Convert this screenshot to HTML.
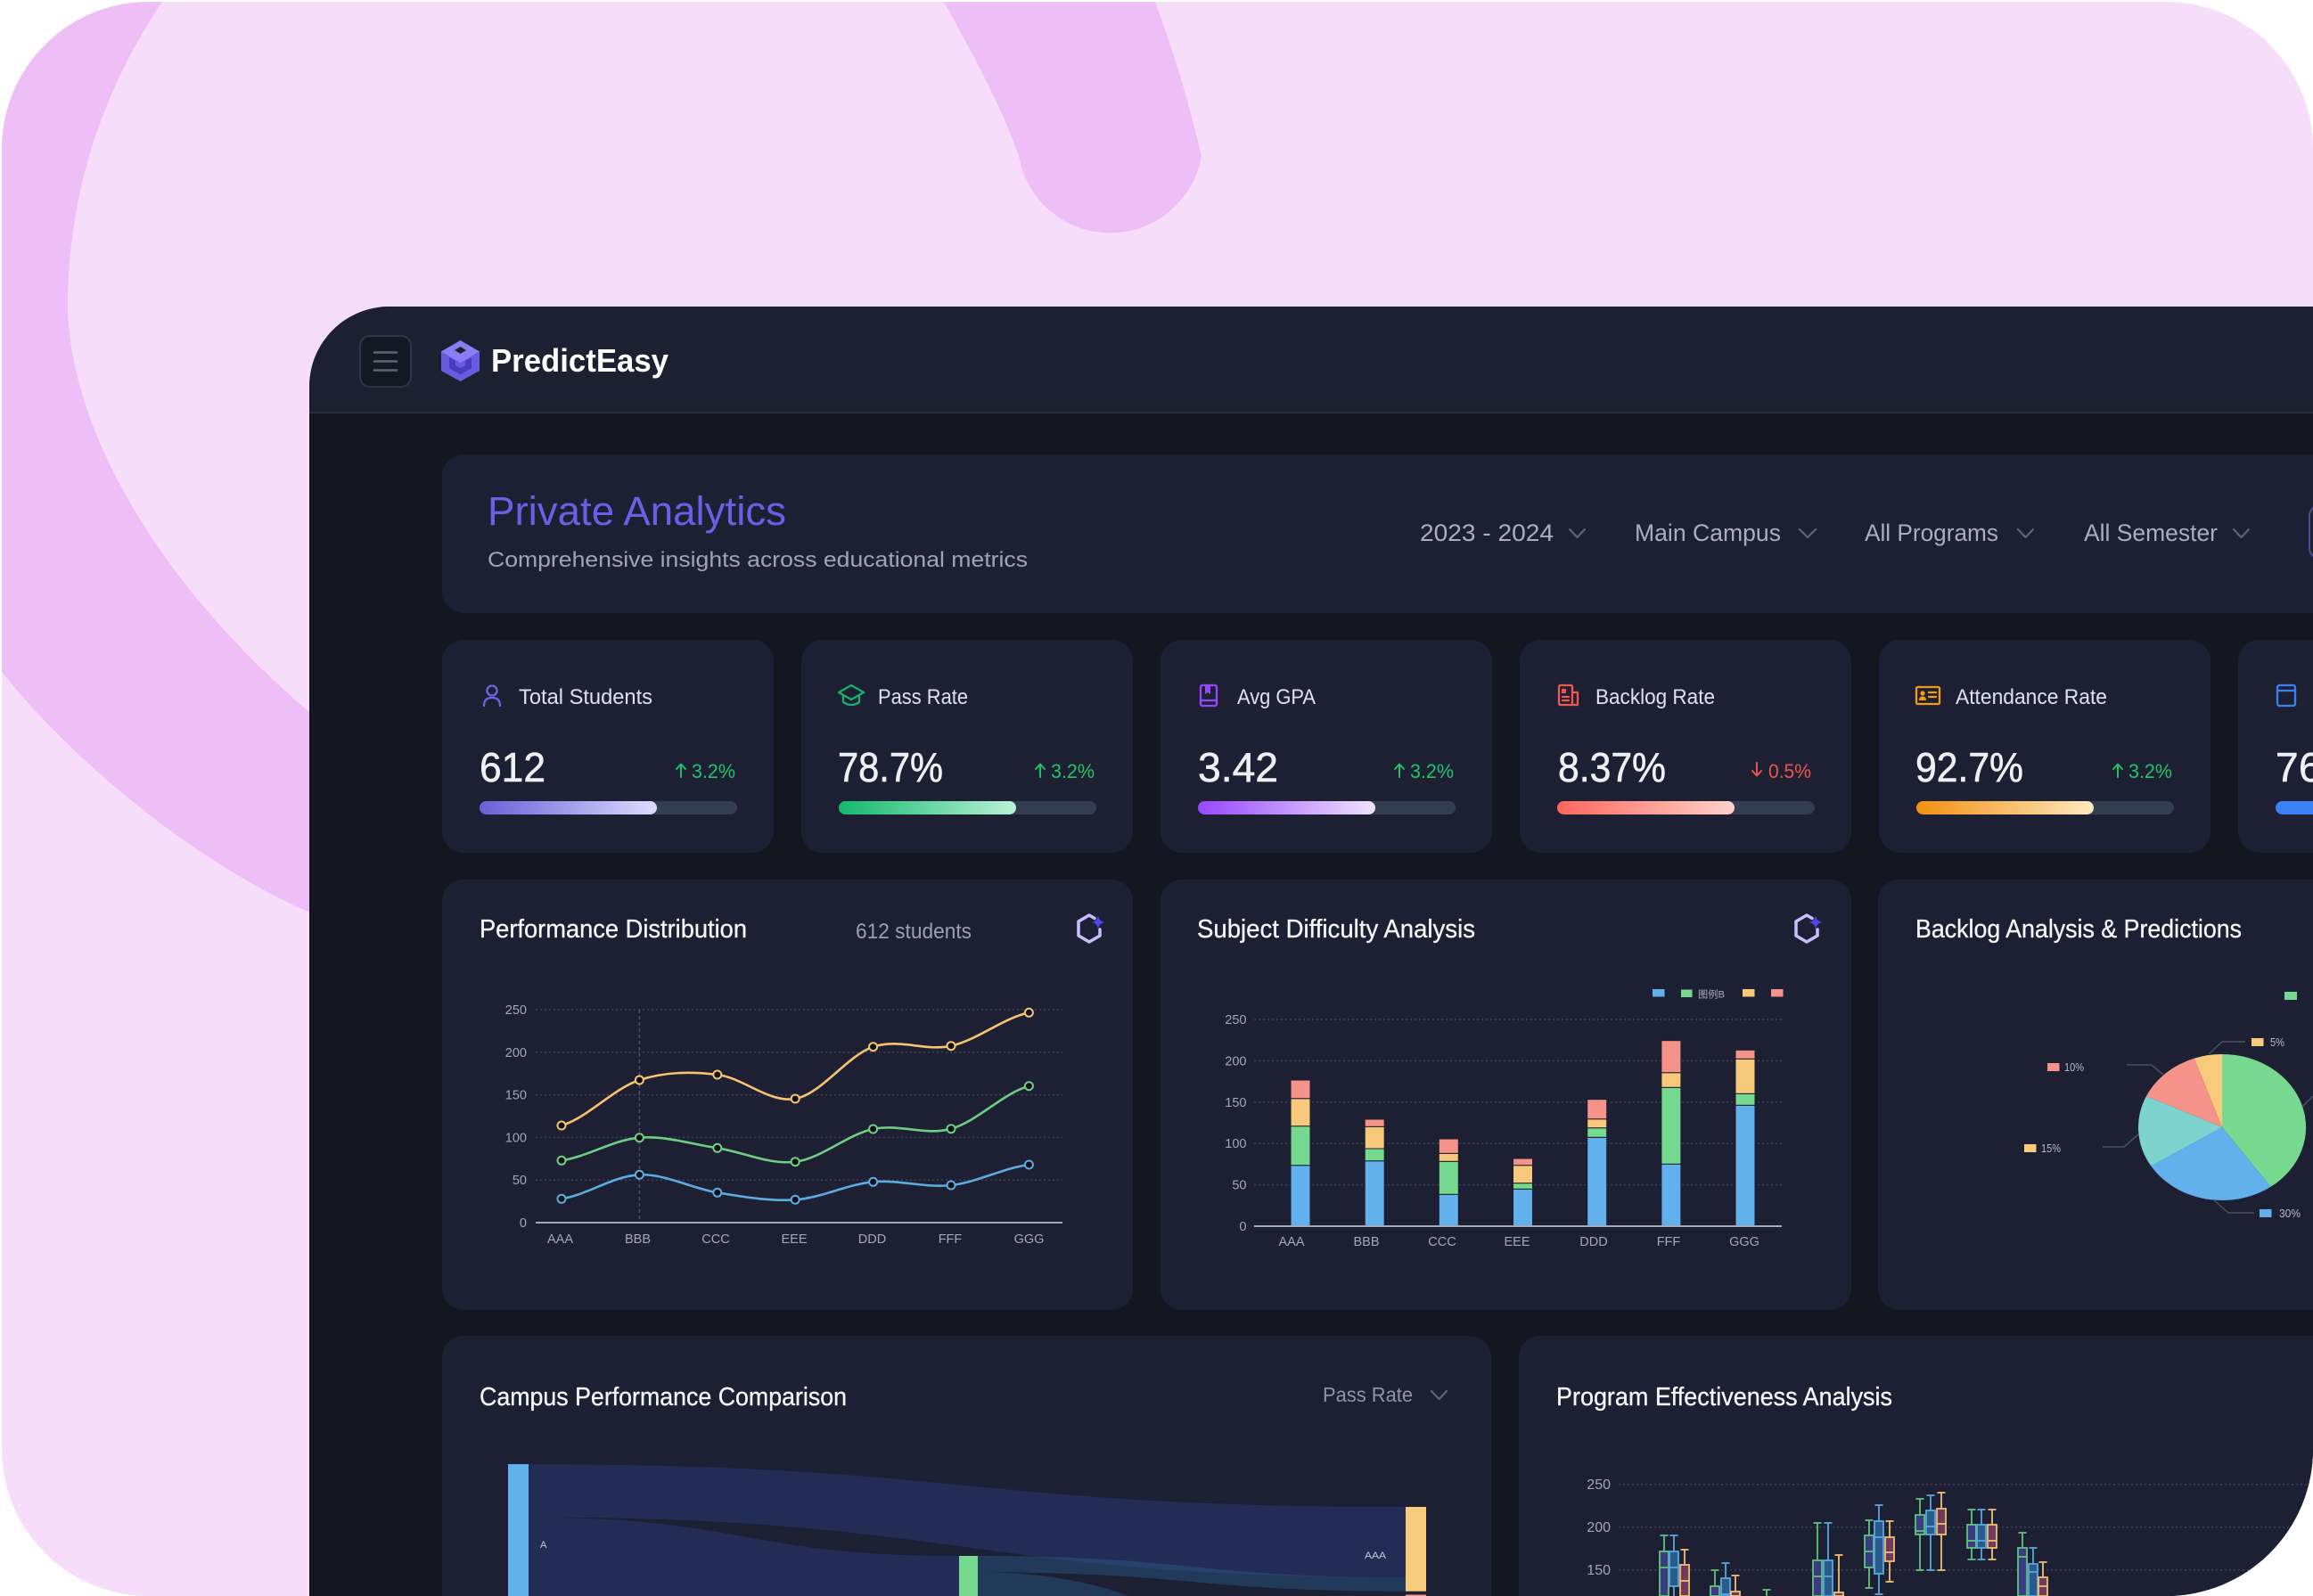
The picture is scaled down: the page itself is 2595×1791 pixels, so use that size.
<!DOCTYPE html>
<html><head><meta charset="utf-8">
<style>
html,body{margin:0;padding:0;background:#fff;width:2595px;height:1791px;overflow:hidden}
svg{display:block}
text{font-family:"Liberation Sans",Arial,"Noto Sans CJK SC",sans-serif}
</style></head><body>
<svg width="2595" height="1791" viewBox="0 0 2595 1791" xmlns="http://www.w3.org/2000/svg">
<defs>
<clipPath id="outer"><rect x="2" y="2" width="2593" height="1789" rx="165" ry="165"/></clipPath>
<clipPath id="dash"><path d="M347,1791 L347,434 A90,90 0 0 1 437,344 L2595,344 L2595,1791 Z"/></clipPath>
<linearGradient id="g1" x1="0" x2="1"><stop offset="0" stop-color="#6a5fd8"/><stop offset="1" stop-color="#dedcff"/></linearGradient>
<linearGradient id="g2" x1="0" x2="1"><stop offset="0" stop-color="#14b86e"/><stop offset="1" stop-color="#b8f2d6"/></linearGradient>
<linearGradient id="g3" x1="0" x2="1"><stop offset="0" stop-color="#9747ff"/><stop offset="1" stop-color="#efe3ff"/></linearGradient>
<linearGradient id="g4" x1="0" x2="1"><stop offset="0" stop-color="#ff665c"/><stop offset="1" stop-color="#ffd2cb"/></linearGradient>
<linearGradient id="g5" x1="0" x2="1"><stop offset="0" stop-color="#f29111"/><stop offset="1" stop-color="#fee9bf"/></linearGradient>
<linearGradient id="g6" x1="0" x2="1"><stop offset="0" stop-color="#3b82f6"/><stop offset="1" stop-color="#c7dcff"/></linearGradient>
</defs>
<rect width="2595" height="1791" fill="#fff"/>
<g clip-path="url(#outer)">
<rect width="2595" height="1791" fill="#f6defb"/>
<path d="M0 0 L190 0 L183 0 C 120 95, 80 200, 76 330 C 72 460, 160 640, 348 800 L 600 950 L 600 1150 L 348 1024 C 200 960, 60 830, 0 751 Z" fill="#edbff6"/>
<path d="M1058,0 C1085,50 1120,110 1143,175 A104,104 0 0 0 1348,175 C1335,120 1318,60 1295,0 Z" fill="#edbff6"/>

<g clip-path="url(#dash)">
<rect x="347" y="344" width="2248" height="1447" fill="#141720"/>
<rect x="347" y="344" width="2248" height="118" fill="#1c2031"/>
<rect x="347" y="462" width="2248" height="2" fill="#2a2f3e"/>

<!-- header -->
<rect x="404" y="377" width="57" height="57" rx="11" fill="#141821" stroke="#2f3545" stroke-width="2"/>
<g stroke="#5c6476" stroke-width="2.6" stroke-linecap="round"><line x1="420" y1="395.5" x2="445" y2="395.5"/><line x1="420" y1="405.5" x2="445" y2="405.5"/><line x1="420" y1="415.5" x2="445" y2="415.5"/></g>
<polygon points="516.5,382 538,394.5 538,416 516.5,428 495,416 495,394.5" fill="#6a5ae0"/>
<polygon points="516.5,382 538,394.5 516.5,407 495,394.5" fill="#8a7ff2"/>
<path d="M504,401 L504,413 L516.5,420.5 L529,413 L529,401 L522,405 L522,410 L516.5,413 L511,410 L511,405 Z" fill="#4a3cbf"/>
<polygon points="516.5,389 523,393 516.5,397 510,393" fill="#1c2031"/>
<text x="551" y="417" font-size="36" font-weight="bold" fill="#ffffff" textLength="199" lengthAdjust="spacingAndGlyphs">PredictEasy</text>

<!-- title card -->
<path d="M496,534 A24,24 0 0 1 520,510 L2595,510 L2595,688 L520,688 A24,24 0 0 1 496,664 Z" fill="#1c2032"/>
<text x="547" y="589" font-size="45" fill="#6c5fe6" textLength="335" lengthAdjust="spacingAndGlyphs">Private Analytics</text>
<text x="547" y="636" font-size="24" fill="#a0a5b2" textLength="606" lengthAdjust="spacingAndGlyphs">Comprehensive insights across educational metrics</text>
<g font-size="27" fill="#a9afbd">
<text x="1593" y="607" textLength="150" lengthAdjust="spacingAndGlyphs">2023 - 2024</text>
<text x="1834" y="607" textLength="164" lengthAdjust="spacingAndGlyphs">Main Campus</text>
<text x="2092" y="607" textLength="150" lengthAdjust="spacingAndGlyphs">All Programs</text>
<text x="2338" y="607" textLength="150" lengthAdjust="spacingAndGlyphs">All Semester</text>
</g>
<g fill="none" stroke="#5c6477" stroke-width="2.2" stroke-linecap="round" stroke-linejoin="round">
<polyline points="1761,594 1769.5,603 1778,594"/>
<polyline points="2019,594 2028,603 2037,594"/>
<polyline points="2264,594 2272.5,603 2281,594"/>
<polyline points="2506,594 2514.5,603 2523,594"/>
</g>
<path d="M2595,567 L2603,567 M2591,579 A12,12 0 0 1 2603,567 M2591,579 L2591,615 A12,12 0 0 0 2603,627 L2595,627" fill="none" stroke="#4e4a8f" stroke-width="2"/>

<!-- KPI cards -->
<g fill="#1c2032">
<rect x="496" y="718" width="372" height="239" rx="24"/>
<rect x="899" y="718" width="372" height="239" rx="24"/>
<rect x="1302" y="718" width="372" height="239" rx="24"/>
<rect x="1705" y="718" width="372" height="239" rx="24"/>
<rect x="2108" y="718" width="372" height="239" rx="24"/>
<path d="M2511,742 A24,24 0 0 1 2535,718 L2595,718 L2595,957 L2535,957 A24,24 0 0 1 2511,933 Z"/>
</g>
<!-- icons -->
<g fill="none" stroke-width="2.3" stroke-linecap="round" stroke-linejoin="round">
<circle cx="552" cy="775" r="5.5" stroke="#6c63e6"/>
<path d="M543,792 Q543,783 552,783 Q561,783 561,792" stroke="#6c63e6"/>
<polygon points="955,769 969,777 955,785 941,777" stroke="#16b26a"/>
<path d="M946,781 L946,788 Q955,794 964,788 L964,781" stroke="#16b26a"/>
<rect x="1347" y="769" width="18" height="23" rx="2" stroke="#9747ff"/>
<line x1="1347" y1="786" x2="1365" y2="786" stroke="#9747ff"/>
<rect x="1749" y="769" width="15" height="22" rx="1.5" stroke="#f0584f"/>
<path d="M1764,777 L1770,777 L1770,791 L1764,791" stroke="#f0584f"/>
<line x1="1753" y1="782" x2="1760" y2="782" stroke="#f0584f"/>
<line x1="1753" y1="786" x2="1760" y2="786" stroke="#f0584f"/>
<rect x="2150" y="771" width="26" height="19" rx="1.5" stroke="#f39c12"/>
<line x1="2164" y1="777" x2="2172" y2="777" stroke="#f39c12"/>
<line x1="2164" y1="782" x2="2172" y2="782" stroke="#f39c12"/>
<rect x="2555" y="769" width="20" height="23" rx="2.5" stroke="#3b82f6"/>
<line x1="2555" y1="775" x2="2575" y2="775" stroke="#3b82f6"/>
</g>
<path d="M1352,769 L1352,779 L1355,777 L1358,779 L1358,769 Z" fill="#9747ff"/>
<rect x="1752" y="773" width="5" height="5" fill="#f0584f"/>
<circle cx="2157" cy="778" r="2.6" fill="#f39c12"/>
<path d="M2153,786 Q2153,781.5 2157,781.5 Q2161,781.5 2161,786 Z" fill="#f39c12"/>
<!-- labels -->
<g font-size="24" fill="#dfe0f2">
<text x="582" y="790" textLength="150" lengthAdjust="spacingAndGlyphs">Total Students</text>
<text x="985" y="790" textLength="101" lengthAdjust="spacingAndGlyphs">Pass Rate</text>
<text x="1388" y="790" textLength="88" lengthAdjust="spacingAndGlyphs">Avg GPA</text>
<text x="1790" y="790" textLength="134" lengthAdjust="spacingAndGlyphs">Backlog Rate</text>
<text x="2194" y="790" textLength="170" lengthAdjust="spacingAndGlyphs">Attendance Rate</text>
</g>
<g font-size="46" fill="#eef0f4" stroke="#eef0f4" stroke-width="0.6">
<text x="538" y="877" textLength="74" lengthAdjust="spacingAndGlyphs">612</text>
<text x="940" y="877" textLength="118" lengthAdjust="spacingAndGlyphs">78.7%</text>
<text x="1344" y="877" textLength="90" lengthAdjust="spacingAndGlyphs">3.42</text>
<text x="1748" y="877" textLength="121" lengthAdjust="spacingAndGlyphs">8.37%</text>
<text x="2149" y="877" textLength="121" lengthAdjust="spacingAndGlyphs">92.7%</text>
<text x="2553" y="877">7</text>
<text x="2579" y="877">6</text>
</g>
<!-- changes -->
<g font-size="22" text-anchor="end">
<text x="825" y="873" fill="#22c468" textLength="49" lengthAdjust="spacingAndGlyphs">3.2%</text>
<text x="1228" y="873" fill="#22c468" textLength="49" lengthAdjust="spacingAndGlyphs">3.2%</text>
<text x="1631" y="873" fill="#22c468" textLength="49" lengthAdjust="spacingAndGlyphs">3.2%</text>
<text x="2032" y="873" fill="#f0544c" textLength="48" lengthAdjust="spacingAndGlyphs">0.5%</text>
<text x="2437" y="873" fill="#22c468" textLength="49" lengthAdjust="spacingAndGlyphs">3.2%</text>
</g>
<g fill="none" stroke-width="1.9" stroke-linecap="round" stroke-linejoin="round">
<g stroke="#22c468">
<path d="M764,872 L764,858 M759,863 L764,857.5 L769,863"/>
<path d="M1167,872 L1167,858 M1162,863 L1167,857.5 L1172,863"/>
<path d="M1570,872 L1570,858 M1565,863 L1570,857.5 L1575,863"/>
<path d="M2376,872 L2376,858 M2371,863 L2376,857.5 L2381,863"/>
</g>
<path d="M1971,856 L1971,870 M1966,865 L1971,870.5 L1976,865" stroke="#f0544c"/>
</g>
<!-- bars -->
<g fill="#333d52">
<rect x="538" y="899" width="289" height="15" rx="7.5"/>
<rect x="941" y="899" width="289" height="15" rx="7.5"/>
<rect x="1344" y="899" width="289" height="15" rx="7.5"/>
<rect x="1747" y="899" width="289" height="15" rx="7.5"/>
<rect x="2150" y="899" width="289" height="15" rx="7.5"/>
</g>
<rect x="538" y="899" width="199" height="15" rx="7.5" fill="url(#g1)"/>
<rect x="941" y="899" width="199" height="15" rx="7.5" fill="url(#g2)"/>
<rect x="1344" y="899" width="199" height="15" rx="7.5" fill="url(#g3)"/>
<rect x="1747" y="899" width="199" height="15" rx="7.5" fill="url(#g4)"/>
<rect x="2150" y="899" width="199" height="15" rx="7.5" fill="url(#g5)"/>
<path d="M2560.5,899 L2595,899 L2595,914 L2560.5,914 A7.5,7.5 0 0 1 2560.5,899 Z" fill="#3b82f6"/>

<!-- chart cards -->
<g fill="#1c2032">
<rect x="496" y="987" width="775" height="483" rx="24"/>
<rect x="1302" y="987" width="775" height="483" rx="24"/>
<path d="M2107,1011 A24,24 0 0 1 2131,987 L2595,987 L2595,1470 L2131,1470 A24,24 0 0 1 2107,1446 Z"/>
<path d="M496,1791 L496,1523 A24,24 0 0 1 520,1499 L1649,1499 A24,24 0 0 1 1673,1523 L1673,1791 Z"/>
<path d="M1704,1791 L1704,1523 A24,24 0 0 1 1728,1499 L2595,1499 L2595,1791 Z"/>
</g>
<g font-size="29" fill="#f5f6f8" stroke="#f5f6f8" stroke-width="0.3">
<text x="538" y="1052" textLength="300" lengthAdjust="spacingAndGlyphs">Performance Distribution</text>
<text x="1343" y="1052" textLength="312" lengthAdjust="spacingAndGlyphs">Subject Difficulty Analysis</text>
<text x="2149" y="1052" textLength="366" lengthAdjust="spacingAndGlyphs">Backlog Analysis &amp; Predictions</text>
<text x="538" y="1577" textLength="412" lengthAdjust="spacingAndGlyphs">Campus Performance Comparison</text>
<text x="1746" y="1577" textLength="377" lengthAdjust="spacingAndGlyphs">Program Effectiveness Analysis</text>
</g>
<text x="960" y="1053" font-size="24" fill="#9aa0ad" textLength="130" lengthAdjust="spacingAndGlyphs">612 students</text>
<text x="1484" y="1573" font-size="23" fill="#8f95a3" textLength="101" lengthAdjust="spacingAndGlyphs">Pass Rate</text>
<polyline points="1606,1561 1614.5,1570 1623,1561" fill="none" stroke="#5c6477" stroke-width="2.2" stroke-linecap="round" stroke-linejoin="round"/>

<!-- chart icons -->
<path d="M1228,1030.5 L1222,1027 L1210,1034 L1210,1050 L1222,1057 L1234,1050 L1234,1043" fill="none" stroke="#c9bfff" stroke-width="3.5" stroke-linejoin="round" stroke-linecap="round"/>
<path d="M1232,1027 Q1233,1034 1239.5,1035 Q1233,1036 1232,1043 Q1231,1036 1224.5,1035 Q1231,1034 1232,1027 Z" fill="#5046e4"/>
<path d="M2033,1030.5 L2027,1027 L2015,1034 L2015,1050 L2027,1057 L2039,1050 L2039,1043" fill="none" stroke="#c9bfff" stroke-width="3.5" stroke-linejoin="round" stroke-linecap="round"/>
<path d="M2037,1027 Q2038,1034 2044.5,1035 Q2038,1036 2037,1043 Q2036,1036 2029.5,1035 Q2036,1034 2037,1027 Z" fill="#5046e4"/>

<!-- Performance chart -->
<g stroke="#3a4152" stroke-width="1.5" stroke-dasharray="2 3">
<line x1="601" y1="1133" x2="1192" y2="1133"/>
<line x1="601" y1="1180.8" x2="1192" y2="1180.8"/>
<line x1="601" y1="1228.6" x2="1192" y2="1228.6"/>
<line x1="601" y1="1276.4" x2="1192" y2="1276.4"/>
<line x1="601" y1="1324.2" x2="1192" y2="1324.2"/>
</g>
<line x1="717.4" y1="1133" x2="717.4" y2="1372" stroke="#4a5163" stroke-width="1.5" stroke-dasharray="4 3"/>
<line x1="601" y1="1372" x2="1192" y2="1372" stroke="#a3a8b3" stroke-width="2"/>
<g font-size="14.5" fill="#a3a9b6" text-anchor="end">
<text x="591" y="1138">250</text><text x="591" y="1185.8">200</text><text x="591" y="1233.6">150</text><text x="591" y="1281.4">100</text><text x="591" y="1329.2">50</text><text x="591" y="1377">0</text>
</g>
<g font-size="14.5" fill="#a3a9b6" text-anchor="middle">
<text x="628.5" y="1395">AAA</text><text x="715.5" y="1395">BBB</text><text x="803" y="1395">CCC</text><text x="891" y="1395">EEE</text><text x="978.5" y="1395">DDD</text><text x="1066" y="1395">FFF</text><text x="1154.5" y="1395">GGG</text>
</g>
<g fill="none" stroke-width="2.6">
<path stroke="#f8c471" d="M630,1263 C659.1,1254.5 688.3,1221.5 717.4,1212 C746.5,1202.5 775.7,1202.5 804.8,1206 C833.9,1209.5 863.1,1238.2 892.2,1233 C921.3,1227.8 950.5,1184.6 979.6,1174.7 C1008.7,1164.8 1037.9,1180.1 1067,1173.7 C1096.1,1167.3 1125.3,1142.5 1154.4,1136.3"/>
<path stroke="#6fd083" d="M630,1302.3 C659.1,1298 688.3,1279 717.4,1276.7 C746.5,1274.4 775.7,1283.8 804.8,1288.3 C833.9,1292.8 863.1,1307.3 892.2,1303.7 C921.3,1300.2 950.5,1273.2 979.6,1267 C1008.7,1260.8 1037.9,1274.8 1067,1266.7 C1096.1,1258.7 1125.3,1226.7 1154.4,1218.7"/>
<path stroke="#5dade2" d="M630,1345.3 C659.1,1340.8 688.3,1319.5 717.4,1318.3 C746.5,1317.1 775.7,1333.6 804.8,1338.3 C833.9,1343 863.1,1348.3 892.2,1346.3 C921.3,1344.3 950.5,1329 979.6,1326.3 C1008.7,1323.6 1037.9,1333.2 1067,1330 C1096.1,1326.8 1125.3,1310.8 1154.4,1307"/>
</g>
<g fill="#0d0f14" stroke-width="2">
<g stroke="#f8c471"><circle cx="630" cy="1263" r="4.5"/><circle cx="717.4" cy="1212" r="4.5"/><circle cx="804.8" cy="1206" r="4.5"/><circle cx="892.2" cy="1233" r="4.5"/><circle cx="979.6" cy="1174.7" r="4.5"/><circle cx="1067" cy="1173.7" r="4.5"/><circle cx="1154.4" cy="1136.3" r="4.5"/></g>
<g stroke="#6fd083"><circle cx="630" cy="1302.3" r="4.5"/><circle cx="717.4" cy="1276.7" r="4.5"/><circle cx="804.8" cy="1288.3" r="4.5"/><circle cx="892.2" cy="1303.7" r="4.5"/><circle cx="979.6" cy="1267" r="4.5"/><circle cx="1067" cy="1266.7" r="4.5"/><circle cx="1154.4" cy="1218.7" r="4.5"/></g>
<g stroke="#5dade2"><circle cx="630" cy="1345.3" r="4.5"/><circle cx="717.4" cy="1318.3" r="4.5"/><circle cx="804.8" cy="1338.3" r="4.5"/><circle cx="892.2" cy="1346.3" r="4.5"/><circle cx="979.6" cy="1326.3" r="4.5"/><circle cx="1067" cy="1330" r="4.5"/><circle cx="1154.4" cy="1307" r="4.5"/></g>
</g>

<!-- Subject difficulty chart -->
<g stroke="#3a4152" stroke-width="1.5" stroke-dasharray="2 3">
<line x1="1407" y1="1144" x2="1999" y2="1144"/>
<line x1="1407" y1="1190.4" x2="1999" y2="1190.4"/>
<line x1="1407" y1="1236.8" x2="1999" y2="1236.8"/>
<line x1="1407" y1="1283.2" x2="1999" y2="1283.2"/>
<line x1="1407" y1="1329.6" x2="1999" y2="1329.6"/>
</g>
<g font-size="14.5" fill="#a3a9b6" text-anchor="end">
<text x="1398.5" y="1149">250</text><text x="1398.5" y="1195.4">200</text><text x="1398.5" y="1241.8">150</text><text x="1398.5" y="1288.2">100</text><text x="1398.5" y="1334.6">50</text><text x="1398.5" y="1381">0</text>
</g>
<g font-size="14.5" fill="#a3a9b6" text-anchor="middle">
<text x="1449" y="1398">AAA</text><text x="1533" y="1398">BBB</text><text x="1618" y="1398">CCC</text><text x="1702" y="1398">EEE</text><text x="1788" y="1398">DDD</text><text x="1872" y="1398">FFF</text><text x="1957" y="1398">GGG</text>
</g>
<g stroke="#1a1e2c" stroke-width="1">
<g fill="#62b0ec">
<rect x="1448" y="1307.7" width="22" height="68.3"/>
<rect x="1531.2" y="1302.7" width="22" height="73.3"/>
<rect x="1614.3" y="1340.3" width="22" height="35.7"/>
<rect x="1697.5" y="1334.3" width="22" height="41.7"/>
<rect x="1780.7" y="1276.3" width="22" height="99.7"/>
<rect x="1863.9" y="1306.3" width="22" height="69.7"/>
<rect x="1947" y="1240.3" width="22" height="135.7"/>
</g>
<g fill="#75d98f">
<rect x="1448" y="1263.7" width="22" height="44"/>
<rect x="1531.2" y="1289" width="22" height="13.7"/>
<rect x="1614.3" y="1303.3" width="22" height="37"/>
<rect x="1697.5" y="1327.7" width="22" height="6.6"/>
<rect x="1780.7" y="1265.7" width="22" height="10.6"/>
<rect x="1863.9" y="1220.3" width="22" height="86"/>
<rect x="1947" y="1227.3" width="22" height="13"/>
</g>
<g fill="#f8c97a">
<rect x="1448" y="1232.7" width="22" height="31"/>
<rect x="1531.2" y="1264.3" width="22" height="24.7"/>
<rect x="1614.3" y="1294.3" width="22" height="9"/>
<rect x="1697.5" y="1307.7" width="22" height="20"/>
<rect x="1780.7" y="1255.7" width="22" height="10"/>
<rect x="1863.9" y="1203.7" width="22" height="16.6"/>
<rect x="1947" y="1188.3" width="22" height="39"/>
</g>
<g fill="#f5938a">
<rect x="1448" y="1212" width="22" height="20.7"/>
<rect x="1531.2" y="1256" width="22" height="8.3"/>
<rect x="1614.3" y="1278" width="22" height="16.3"/>
<rect x="1697.5" y="1300" width="22" height="7.7"/>
<rect x="1780.7" y="1233.7" width="22" height="22"/>
<rect x="1863.9" y="1167.7" width="22" height="36"/>
<rect x="1947" y="1178.3" width="22" height="10"/>
</g>
</g>
<line x1="1407" y1="1376" x2="1999" y2="1376" stroke="#a3a8b3" stroke-width="2"/>
<rect x="1854" y="1110" width="13.5" height="8.5" fill="#62b0ec"/>
<rect x="1886" y="1110.5" width="12.5" height="8.5" fill="#75d98f"/>
<text x="1905" y="1119.5" font-size="11" fill="#a9aebb" textLength="30" lengthAdjust="spacingAndGlyphs" style="font-family:'Liberation Sans','Noto Sans CJK SC',sans-serif">图例B</text>
<rect x="1955" y="1110" width="13.5" height="8.5" fill="#f8c97a"/>
<rect x="1987" y="1110" width="13.5" height="8.5" fill="#f5938a"/>

<!-- Pie -->
<path d="M2493,1265 L2493,1183 A94,82 0 0 1 2547.6,1331.8 Z" fill="#77d98f"/>
<path d="M2493,1265 L2547.6,1331.8 A94,82 0 0 1 2413.3,1308.5 Z" fill="#62b0ec"/>
<path d="M2493,1265 L2413.3,1308.5 A94,82 0 0 1 2408,1230 Z" fill="#7dd4cf"/>
<path d="M2493,1265 L2408,1230 A94,82 0 0 1 2461.9,1187.6 Z" fill="#f5938a"/>
<path d="M2493,1265 L2461.9,1187.6 A94,82 0 0 1 2493,1183 Z" fill="#f8ca7c"/>
<g fill="none" stroke="#4a505e" stroke-width="1.5">
<polyline points="2478,1183 2493,1169 2519,1169"/>
<polyline points="2386,1195 2414,1195 2427,1206"/>
<polyline points="2359,1287 2383,1287 2399,1273"/>
<polyline points="2483,1346 2500,1361 2529,1361"/>
<polyline points="2595,1230 2583,1242"/>
</g>
<rect x="2526" y="1165" width="13.5" height="9" fill="#f8ca7c"/>
<rect x="2297" y="1193" width="13.5" height="9" fill="#f5938a"/>
<rect x="2271" y="1284" width="13.5" height="9" fill="#f8ca7c"/>
<rect x="2535" y="1357" width="13.5" height="9" fill="#62b0ec"/>
<rect x="2563" y="1113" width="14" height="9" fill="#77d98f"/>
<g font-size="12.5" fill="#b8bcc6">
<text x="2547" y="1174" textLength="16" lengthAdjust="spacingAndGlyphs">5%</text>
<text x="2316" y="1202" textLength="22" lengthAdjust="spacingAndGlyphs">10%</text>
<text x="2290" y="1293" textLength="22" lengthAdjust="spacingAndGlyphs">15%</text>
<text x="2557" y="1366" textLength="24" lengthAdjust="spacingAndGlyphs">30%</text>
</g>

<!-- Sankey -->
<path d="M593,1643.3 C1085,1643.3 1085,1691 1577,1691 L1577,1770 C1085,1770 1085,1702.7 593,1702.7 Z" fill="#222c55"/>
<path d="M593,1702.7 C834.5,1702.7 834.5,1746 1076,1746 L1076,1791 L593,1791 Z" fill="#222c55"/>
<path d="M1097,1746 C1337,1746 1337,1770 1577,1770 L1577,1785.7 C1337,1785.7 1337,1764.3 1097,1764.3 Z" fill="#2a5a8a" fill-opacity="0.45"/>
<path d="M1097,1764.3 C1171.4,1764.3 1222.7,1775.4 1265.3,1790.7 L1265.3,1791 L1097,1791 Z" fill="#2a5a8a" fill-opacity="0.45"/>
<rect x="570" y="1643" width="23" height="148" fill="#62b0ec"/>
<rect x="1076" y="1746" width="21" height="45" fill="#77d98f"/>
<rect x="1577" y="1691" width="23" height="94.7" fill="#f8ca7c"/>
<rect x="1577" y="1789.5" width="23" height="1.5" fill="#f5938a"/>
<text x="606" y="1737" font-size="11" fill="#c8ccd6">A</text>
<text x="1531" y="1749" font-size="11" fill="#c8ccd6" textLength="24" lengthAdjust="spacingAndGlyphs">AAA</text>

<!-- Boxplot -->
<g stroke="#3a4152" stroke-width="1.5" stroke-dasharray="2 3">
<line x1="1816" y1="1665.7" x2="2595" y2="1665.7"/>
<line x1="1816" y1="1713.7" x2="2595" y2="1713.7"/>
<line x1="1816" y1="1761.7" x2="2595" y2="1761.7"/>
</g>
<g font-size="16" fill="#a3a9b6" text-anchor="end">
<text x="1807" y="1671">250</text><text x="1807" y="1719">200</text><text x="1807" y="1767">150</text>
</g>
<g stroke-width="1.8">
<g stroke="#5fc47c" fill="#3c3a82">
<line x1="1867" y1="1723" x2="1867" y2="1741"/><line x1="1862.5" y1="1723" x2="1871.5" y2="1723"/><rect x="1862" y="1741" width="10" height="50"/><line x1="1862" y1="1759" x2="1872" y2="1759"/>
<line x1="1924" y1="1762" x2="1924" y2="1780"/><line x1="1919.5" y1="1762" x2="1928.5" y2="1762"/><rect x="1919" y="1780" width="10" height="11"/>
<line x1="1982" y1="1784" x2="1982" y2="1791"/><line x1="1977.5" y1="1784" x2="1986.5" y2="1784"/>
<line x1="2039" y1="1709" x2="2039" y2="1751"/><line x1="2034.5" y1="1709" x2="2043.5" y2="1709"/><rect x="2034" y="1751" width="10" height="40"/><line x1="2034" y1="1769" x2="2044" y2="1769"/>
<line x1="2097" y1="1706" x2="2097" y2="1723"/><line x1="2092.5" y1="1706" x2="2101.5" y2="1706"/><rect x="2092" y="1723" width="10" height="36"/><line x1="2092" y1="1741" x2="2102" y2="1741"/><line x1="2097" y1="1759" x2="2097" y2="1782"/><line x1="2092.5" y1="1782" x2="2101.5" y2="1782"/>
<line x1="2154" y1="1682" x2="2154" y2="1700"/><line x1="2149.5" y1="1682" x2="2158.5" y2="1682"/><rect x="2149" y="1700" width="10" height="22"/><line x1="2149" y1="1718" x2="2159" y2="1718"/><line x1="2154" y1="1722" x2="2154" y2="1762"/><line x1="2149.5" y1="1762" x2="2158.5" y2="1762"/>
<line x1="2212" y1="1694" x2="2212" y2="1711"/><line x1="2207.5" y1="1694" x2="2216.5" y2="1694"/><rect x="2207" y="1711" width="10" height="26"/><line x1="2207" y1="1729" x2="2217" y2="1729"/><line x1="2212" y1="1737" x2="2212" y2="1750"/><line x1="2207.5" y1="1750" x2="2216.5" y2="1750"/>
<line x1="2269" y1="1720" x2="2269" y2="1737"/><line x1="2264.5" y1="1720" x2="2273.5" y2="1720"/><rect x="2264" y="1737" width="10" height="54"/><line x1="2264" y1="1747" x2="2274" y2="1747"/>
</g>
<g stroke="#58a8e0" fill="#2b5b8b">
<line x1="1878" y1="1723" x2="1878" y2="1741"/><line x1="1873.5" y1="1723" x2="1882.5" y2="1723"/><rect x="1873" y="1741" width="10" height="39"/><line x1="1873" y1="1759" x2="1883" y2="1759"/><line x1="1878" y1="1780" x2="1878" y2="1791"/>
<line x1="1936" y1="1754" x2="1936" y2="1771"/><line x1="1931.5" y1="1754" x2="1940.5" y2="1754"/><rect x="1931" y="1771" width="10" height="20"/><line x1="1931" y1="1789" x2="1941" y2="1789"/>
<line x1="2051" y1="1709" x2="2051" y2="1751"/><line x1="2046.5" y1="1709" x2="2055.5" y2="1709"/><rect x="2046" y="1751" width="10" height="40"/><line x1="2046" y1="1769" x2="2056" y2="1769"/>
<line x1="2108" y1="1689" x2="2108" y2="1707"/><line x1="2103.5" y1="1689" x2="2112.5" y2="1689"/><rect x="2103" y="1707" width="10" height="59"/><line x1="2103" y1="1725" x2="2113" y2="1725"/><line x1="2108" y1="1766" x2="2108" y2="1789"/><line x1="2103.5" y1="1789" x2="2112.5" y2="1789"/>
<line x1="2166" y1="1678" x2="2166" y2="1695"/><line x1="2161.5" y1="1678" x2="2170.5" y2="1678"/><rect x="2161" y="1695" width="10" height="27"/><line x1="2161" y1="1713" x2="2171" y2="1713"/><line x1="2166" y1="1722" x2="2166" y2="1762"/><line x1="2161.5" y1="1762" x2="2170.5" y2="1762"/>
<line x1="2223" y1="1694" x2="2223" y2="1711"/><line x1="2218.5" y1="1694" x2="2227.5" y2="1694"/><rect x="2218" y="1711" width="10" height="26"/><line x1="2218" y1="1729" x2="2228" y2="1729"/><line x1="2223" y1="1737" x2="2223" y2="1750"/><line x1="2218.5" y1="1750" x2="2227.5" y2="1750"/>
<line x1="2281" y1="1737" x2="2281" y2="1755"/><line x1="2276.5" y1="1737" x2="2285.5" y2="1737"/><rect x="2276" y="1755" width="10" height="36"/><line x1="2276" y1="1764" x2="2286" y2="1764"/>
</g>
<g stroke="#f0c070" fill="#6e3b5f">
<line x1="1890" y1="1739" x2="1890" y2="1756"/><line x1="1885.5" y1="1739" x2="1894.5" y2="1739"/><rect x="1885" y="1756" width="10" height="35"/><line x1="1885" y1="1774" x2="1895" y2="1774"/>
<line x1="1947" y1="1768" x2="1947" y2="1786"/><line x1="1942.5" y1="1768" x2="1951.5" y2="1768"/><rect x="1942" y="1786" width="10" height="5"/>
<line x1="2063" y1="1745" x2="2063" y2="1787"/><line x1="2058.5" y1="1745" x2="2067.5" y2="1745"/><rect x="2058" y="1787" width="10" height="4"/>
<line x1="2120" y1="1707" x2="2120" y2="1725"/><line x1="2115.5" y1="1707" x2="2124.5" y2="1707"/><rect x="2115" y="1725" width="10" height="27"/><line x1="2115" y1="1742" x2="2125" y2="1742"/><line x1="2120" y1="1752" x2="2120" y2="1775"/><line x1="2115.5" y1="1775" x2="2124.5" y2="1775"/>
<line x1="2178" y1="1675" x2="2178" y2="1693"/><line x1="2173.5" y1="1675" x2="2182.5" y2="1675"/><rect x="2173" y="1693" width="10" height="29"/><line x1="2173" y1="1710" x2="2183" y2="1710"/><line x1="2178" y1="1722" x2="2178" y2="1762"/><line x1="2173.5" y1="1762" x2="2182.5" y2="1762"/>
<line x1="2235" y1="1694" x2="2235" y2="1711"/><line x1="2230.5" y1="1694" x2="2239.5" y2="1694"/><rect x="2230" y="1711" width="10" height="26"/><line x1="2230" y1="1729" x2="2240" y2="1729"/><line x1="2235" y1="1737" x2="2235" y2="1750"/><line x1="2230.5" y1="1750" x2="2239.5" y2="1750"/>
<line x1="2292" y1="1753" x2="2292" y2="1770"/><line x1="2287.5" y1="1753" x2="2296.5" y2="1753"/><rect x="2287" y="1770" width="10" height="21"/><line x1="2287" y1="1780" x2="2297" y2="1780"/>
</g>
</g>
</g>
</g>
</svg>
</body></html>
